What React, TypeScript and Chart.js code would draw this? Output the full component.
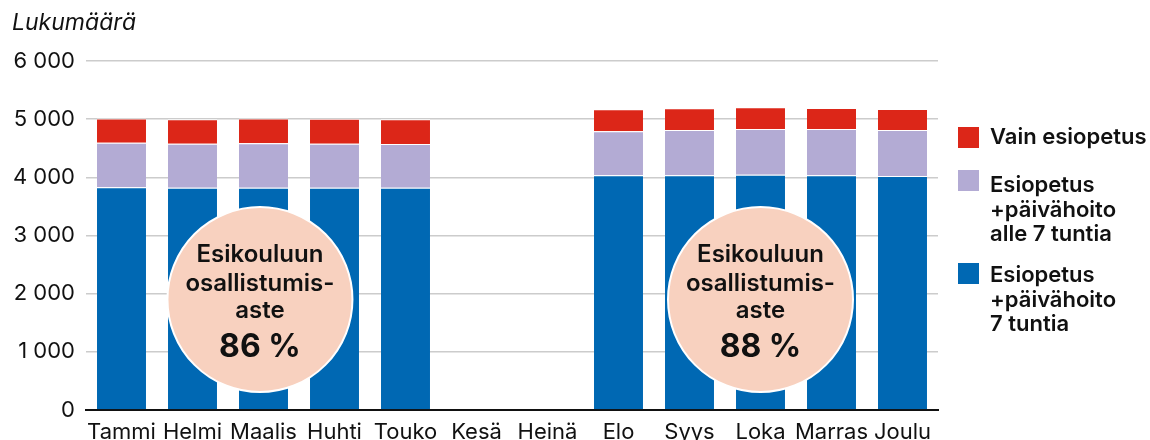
import React, { useEffect, useRef } from "react";
import { Chart, registerables } from "chart.js";

Chart.register(...registerables);

const months = ["Tammi", "Helmi", "Maalis", "Huhti", "Touko", "Kesä", "Heinä", "Elo", "Syys", "Loka", "Marras", "Joulu"];
const full7h = [3830, 3820, 3822, 3822, 3820, null, null, 4035, 4035, 4045, 4035, 4025];
const under7h = [765, 758, 763, 756, 753, null, null, 756, 778, 786, 796, 788];
const onlyPre = [415, 419, 425, 429, 424, null, null, 378, 373, 373, 361, 362];

const seriesNames = ["Esiopetus +päivähoito 7 tuntia", "Esiopetus +päivähoito alle 7 tuntia", "Vain esiopetus"];
const colors = ["#0068b3", "#b3abd4", "#dc2618"];

const circlePos = [1.95, 9];
const circleValue = [1900, 1900];
const circleTexts = ["86 %", "88 %"];
const circleLines = ["Esikouluun", "osallistumis-", "aste"];

const yMax = 6000;
const yStep = 1000;

const legendItems = [
  { color: colors[2], lines: ["Vain esiopetus"] },
  { color: colors[1], lines: ["Esiopetus", "+päivähoito", "alle 7 tuntia"] },
  { color: colors[0], lines: ["Esiopetus", "+päivähoito", "7 tuntia"] },
];

const FONT = "Inter, 'Liberation Sans', Arial, sans-serif";

const circlePlugin = {
  id: "circles",
  afterDatasetsDraw(chart: any) {
    const ctx = chart.ctx;
    const xs = chart.scales.x;
    const ys = chart.scales.y;
    const r = 92.5;
    circlePos.forEach((p, i) => {
      const cx = xs.getPixelForValue(p);
      const cy = ys.getPixelForValue(circleValue[i]);
      ctx.save();
      ctx.beginPath();
      ctx.arc(cx, cy, r, 0, Math.PI * 2);
      ctx.fillStyle = "#f8d1bf";
      ctx.fill();
      ctx.lineWidth = 2;
      ctx.strokeStyle = "#ffffff";
      ctx.stroke();
      ctx.fillStyle = "#111111";
      ctx.textAlign = "center";
      ctx.textBaseline = "alphabetic";
      ctx.font = `600 24px ${FONT}`;
      const offs = [-37, -8, 19];
      circleLines.forEach((l, j) => ctx.fillText(l, cx, cy + offs[j]));
      ctx.font = `700 32px ${FONT}`;
      ctx.fillText(circleTexts[i], cx, cy + 58);
      ctx.restore();
    });
  },
};

export default function App() {
  const ref = useRef<HTMLCanvasElement>(null);
  useEffect(() => {
    if (!ref.current) return;
    const chart = new Chart(ref.current, {
      type: "bar",
      data: {
        labels: months,
        datasets: [
          { label: seriesNames[0], data: full7h, backgroundColor: colors[0] },
          { label: seriesNames[1], data: under7h, backgroundColor: colors[1] },
          { label: seriesNames[2], data: onlyPre, backgroundColor: colors[2] },
        ].map((d) => ({
          ...d,
          borderColor: "#ffffff",
          borderWidth: { top: 1, left: 0, right: 0, bottom: 0 },
          borderSkipped: false,
          barPercentage: 0.69,
          categoryPercentage: 1,
        })) as any,
      },
      options: {
        responsive: false,
        animation: false,
        layout: { padding: { left: 0, right: 212, top: 61, bottom: 0 } },
        plugins: { legend: { display: false }, tooltip: { enabled: false } },
        scales: {
          x: {
            stacked: true,
            grid: { display: false, drawTicks: false },
            border: { display: true, color: "#111111", width: 2 },
            ticks: { color: "#111111", font: { family: FONT, size: 22 }, padding: 9, maxRotation: 0, autoSkip: false },
            afterFit: (s: any) => { s.height = 30; },
          },
          y: {
            stacked: true,
            min: 0,
            max: yMax,
            grid: { color: "#cccccc", lineWidth: 1.5, drawTicks: false },
            border: { display: false },
            ticks: {
              stepSize: yStep,
              color: "#111111",
              padding: 11,
              font: { family: FONT, size: 22 },
              callback: (v: any) => String(v).replace(/\B(?=(\d{3})+(?!\d))/g, " "),
            },
            afterFit: (s: any) => { s.width = 86; },
          },
        },
      },
      plugins: [circlePlugin],
    });
    return () => chart.destroy();
  }, []);

  const squareTops = [127, 170, 263];
  const textTops = [124, 172, 262];
  return (
    <div style={{ position: "absolute", left: 0, top: 0, width: 1150, height: 440, background: "#fff", overflow: "hidden" }}>
      <canvas ref={ref} width={1150} height={440} style={{ position: "absolute", left: 0, top: 0 }} />
      <div style={{ position: "absolute", left: 12, top: 8, fontFamily: FONT, fontStyle: "italic", fontSize: 23, color: "#111" }}>
        Lukumäärä
      </div>
      {legendItems.map((it, i) => (
        <React.Fragment key={i}>
          <div style={{ position: "absolute", left: 958, top: squareTops[i], width: 21, height: 21, background: it.color }} />
          <div style={{ position: "absolute", left: 990, top: textTops[i], fontFamily: FONT, fontWeight: 600, fontSize: 22, lineHeight: "24.5px", color: "#111", whiteSpace: "nowrap" }}>
            {it.lines.map((l, j) => (
              <div key={j}>{l}</div>
            ))}
          </div>
        </React.Fragment>
      ))}
    </div>
  );
}
